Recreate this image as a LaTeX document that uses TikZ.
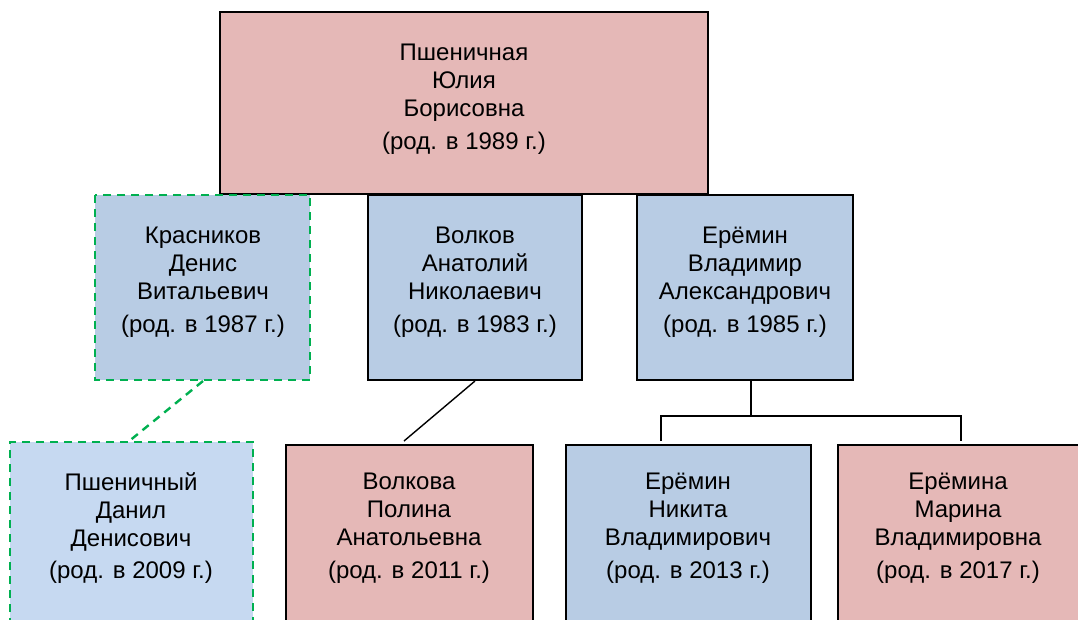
\documentclass[tikz,border=0pt]{standalone}
\usepackage{fontspec}
\setmainfont{Liberation Sans}
\definecolor{pinkfill}{RGB}{229,184,183}
\definecolor{bluefill}{RGB}{184,204,228}
\definecolor{lightblue}{RGB}{198,217,241}
\definecolor{dgreen}{RGB}{0,176,80}
\tikzset{
  box/.style={draw=black, line width=1.8pt},
  dbox/.style={draw=dgreen, line width=2.6pt, dash pattern=on 8pt off 6pt},
  txt/.style={align=center, font=\fontsize{24}{28}\selectfont, inner sep=0pt},
  link/.style={draw=black, line width=1.4pt},
  dlink/.style={draw=dgreen, line width=2.4pt, dash pattern=on 8pt off 6pt}
}
\begin{document}
\begin{tikzpicture}[x=1pt,y=-1pt]
\useasboundingbox (0,0) rectangle (1078,619);
\clip (0,0) rectangle (1078,619);
% top
\draw[box, fill=pinkfill] (220,12) rectangle (708,194);
\node[txt] (top) at (464,99) {Пшеничная\\Юлия\\Борисовна\\[4.5pt](род. в 1989 г.)};
% row 2
\draw[dbox, fill=bluefill] (95,195) rectangle (310,380);
\node[txt] (kras) at (203,282) {Красников\\Денис\\Витальевич\\[4.5pt](род. в 1987 г.)};
\draw[box, fill=bluefill] (368,195) rectangle (582,380);
\node[txt] (volk) at (475,282) {Волков\\Анатолий\\Николаевич\\[4.5pt](род. в 1983 г.)};
\draw[box, fill=bluefill] (637,195) rectangle (853,380);
\node[txt] (erem) at (745,282) {Ерёмин\\Владимир\\Александрович\\[4.5pt](род. в 1985 г.)};
% row 3
\path[fill=lightblue] (10,442) rectangle (253,640);
\draw[dbox] (10,640) -- (10,442) -- (253,442) -- (253,640);
\node[txt] (dan) at (131,528) {Пшеничный\\Данил\\Денисович\\[4.5pt](род. в 2009 г.)};
\draw[box, fill=pinkfill] (286,445) rectangle (533,640);
\node[txt] (pol) at (409,528) {Волкова\\Полина\\Анатольевна\\[4.5pt](род. в 2011 г.)};
\draw[box, fill=bluefill] (566,445) rectangle (811,640);
\node[txt] (nik) at (688,528) {Ерёмин\\Никита\\Владимирович\\[4.5pt](род. в 2013 г.)};
\draw[box, fill=pinkfill] (838,445) rectangle (1085,640);
\node[txt] (mar) at (958,528) {Ерёмина\\Марина\\Владимировна\\[4.5pt](род. в 2017 г.)};
% connectors
\coordinate (kb) at (203,381);
\coordinate (dt) at (128,442);
\draw[dlink] (kb) -- (dt);
\coordinate (vb) at (475,381);
\coordinate (pt) at (404,441);
\draw[link] (vb) -- (pt);
\coordinate (eb) at (751,381);
\coordinate (ej) at (751,416);
\coordinate (nl) at (661,416);
\coordinate (nr) at (961,416);
\coordinate (nt) at (661,441);
\coordinate (mt) at (961,441);
\draw[link] (eb) -- (ej);
\draw[link] (nt) -- (nl) -- (nr) -- (mt);
\end{tikzpicture}
\end{document}
